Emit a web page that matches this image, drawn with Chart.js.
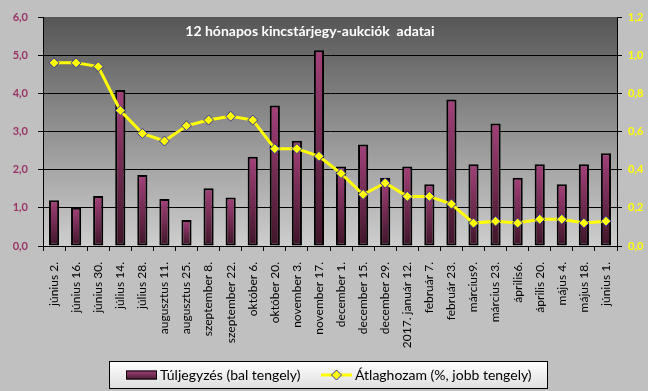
<!DOCTYPE html>
<html><head><meta charset="utf-8">
<script src="https://cdn.jsdelivr.net/npm/chart.js@4/dist/chart.umd.min.js"></script>
<style>html,body{margin:0;padding:0;background:#c0c0c0;}#wrap{width:648px;height:391px;position:relative;overflow:hidden}</style>
</head><body><div id="wrap"><canvas id="c" width="648" height="391"></canvas></div>
<script>
const chartTitle = '12 hónapos kincstárjegy-aukciók  adatai';
const categories = ['június 2.','június 16.','június 30.','július 14.','július 28.','augusztus 11.','augusztus 25.','szeptember 8.','szeptember 22.','október 6.','október 20.','november 3.','november 17.','december 1.','december 15.','december 29.','2017. január 12.','február 7.','február 23.','március9.','március 23.','április6.','április 20.','május 4.','május 18.','június 1.'];
const oversubLabel = 'Túljegyzés (bal tengely)';
const oversubscription = [1.20,1.00,1.31,4.09,1.86,1.23,0.68,1.51,1.27,2.34,3.68,2.76,5.13,2.08,2.66,1.79,2.08,1.62,3.84,2.14,3.21,1.79,2.14,1.62,2.14,2.43];
const yieldLabel = 'Átlaghozam (%, jobb tengely)';
const avgYield = [0.96,0.96,0.94,0.71,0.59,0.55,0.63,0.66,0.68,0.66,0.51,0.51,0.47,0.38,0.27,0.33,0.26,0.26,0.22,0.12,0.13,0.12,0.14,0.14,0.12,0.13];
const leftAxisRange = [0, 6, 1];
const rightAxisRange = [0, 1.2, 0.2];

const FONT = 'Lato, "Liberation Sans", Arial, sans-serif';
const fmt = v => Number(v).toFixed(1).replace('.', ',');

const bgPlugin = {
  id: 'bg',
  beforeDraw(chart) {
    const {ctx, chartArea: a} = chart;
    ctx.save();
    ctx.fillStyle = '#c0c0c0';
    ctx.fillRect(0, 0, chart.width, chart.height);
    const g = ctx.createLinearGradient(0, a.top, 0, a.bottom);
    g.addColorStop(0, '#565656');
    g.addColorStop(1, '#cecece');
    ctx.fillStyle = g;
    ctx.fillRect(a.left, a.top, a.right - a.left, a.bottom - a.top);
    ctx.restore();
  }
};

const titlePlugin = {
  id: 'inTitle',
  afterDatasetsDraw(chart) {
    const {ctx, chartArea: a} = chart;
    ctx.save();
    ctx.font = 'bold 14px ' + FONT;
    ctx.fillStyle = '#ffffff';
    ctx.textAlign = 'center';
    ctx.textBaseline = 'middle';
    ctx.fillText(chartTitle, a.left + (a.right - a.left) * 0.465, a.top + 14);
    ctx.restore();
  }
};

const legendPlugin = {
  id: 'boxLegend',
  afterDraw(chart) {
    const {ctx} = chart;
    const ds = chart.data.datasets;
    const x0 = 109.5, y0 = 361.5, w = 438, h = 27;
    ctx.save();
    const g = ctx.createLinearGradient(0, y0, 0, y0 + h);
    g.addColorStop(0, '#ffffff');
    g.addColorStop(1, '#dedede');
    ctx.fillStyle = g;
    ctx.fillRect(x0, y0, w, h);
    ctx.strokeStyle = '#000';
    ctx.lineWidth = 1;
    ctx.strokeRect(x0, y0, w, h);
    const cy = y0 + h / 2;
    const sg = ctx.createLinearGradient(0, cy - 4.5, 0, cy + 4.5);
    sg.addColorStop(0, '#a3417a');
    sg.addColorStop(1, '#4a1a33');
    ctx.fillStyle = sg;
    ctx.fillRect(126, cy - 4.5, 31, 9);
    ctx.strokeStyle = '#000';
    ctx.strokeRect(126.5, cy - 4, 30, 8);
    ctx.font = '14px ' + FONT;
    ctx.fillStyle = '#000';
    ctx.textBaseline = 'middle';
    ctx.textAlign = 'left';
    ctx.fillText(ds[0].label, 160, cy);
    ctx.strokeStyle = '#ffff00';
    ctx.lineWidth = 3;
    ctx.beginPath(); ctx.moveTo(321, cy); ctx.lineTo(352, cy); ctx.stroke();
    ctx.fillStyle = '#ffff00';
    ctx.strokeStyle = '#333399';
    ctx.lineWidth = 1;
    ctx.beginPath();
    ctx.moveTo(336.5, cy - 5); ctx.lineTo(341.5, cy); ctx.lineTo(336.5, cy + 5); ctx.lineTo(331.5, cy); ctx.closePath();
    ctx.fill(); ctx.stroke();
    ctx.fillStyle = '#000';
    ctx.fillText(ds[1].label, 355, cy);
    ctx.restore();
  }
};

function barGradient(context) {
  const chart = context.chart;
  const a = chart.chartArea;
  if (!a || context.parsed == null) return '#7a2a55';
  const y = chart.scales.y;
  const top = y.getPixelForValue(context.parsed.y);
  const bot = y.getPixelForValue(0);
  if (!isFinite(top) || bot - top < 1) return '#7a2a55';
  const g = chart.ctx.createLinearGradient(0, top, 0, bot);
  g.addColorStop(0, '#a3417a');
  g.addColorStop(1, '#3f1529');
  return g;
}

new Chart(document.getElementById('c'), {
  data: {
    labels: categories,
    datasets: [
      {
        type: 'bar', label: oversubLabel, data: oversubscription, yAxisID: 'y', order: 1,
        backgroundColor: barGradient, borderColor: '#000', borderWidth: 2, borderSkipped: false,
        categoryPercentage: 1, barPercentage: 0.46
      },
      {
        type: 'line', label: yieldLabel, data: avgYield, yAxisID: 'y1', order: 0,
        borderColor: '#ffff00', borderWidth: 3, tension: 0,
        pointStyle: 'rectRot', pointRadius: 5, pointBackgroundColor: '#ffff00',
        pointBorderColor: '#333399', pointBorderWidth: 1
      }
    ]
  },
  options: {
    responsive: false, animation: false, devicePixelRatio: 1,
    layout: { padding: { top: 17, left: 0, right: 0, bottom: 0 } },
    plugins: { legend: { display: false }, title: { display: false }, tooltip: { enabled: false } },
    scales: {
      x: {
        offset: true,
        grid: { display: true, drawOnChartArea: false, offset: true, tickLength: 5, color: '#000', tickColor: '#000' },
        border: { display: true, color: '#000', width: 1 },
        ticks: { autoSkip: false, maxRotation: 90, minRotation: 90, padding: 11, color: '#000', font: { family: FONT, size: 12 } },
        afterFit: s => { s.height = 145; }
      },
      y: {
        position: 'left', min: leftAxisRange[0], max: leftAxisRange[1],
        grid: { color: c => (c.tick && c.tick.value === leftAxisRange[1]) ? 'rgba(0,0,0,0)' : '#000', tickColor: '#000', tickLength: 5, lineWidth: 1 },
        border: { display: true, color: '#000', width: 1 },
        ticks: { stepSize: leftAxisRange[2], callback: v => fmt(v), color: '#993366', padding: 10, font: { family: FONT, size: 11, weight: 'bold' } },
        afterFit: s => { s.width = 43; }
      },
      y1: {
        position: 'right', min: rightAxisRange[0], max: rightAxisRange[1],
        grid: { drawOnChartArea: false, tickColor: '#000', tickLength: 5 },
        border: { display: true, color: '#000', width: 1 },
        ticks: { stepSize: rightAxisRange[2], callback: v => fmt(v), color: '#ffff00', padding: 6, font: { family: FONT, size: 11, weight: 'bold' } },
        afterFit: s => { s.width = 31; }
      }
    }
  },
  plugins: [bgPlugin, titlePlugin, legendPlugin]
});
</script>
</body></html>
